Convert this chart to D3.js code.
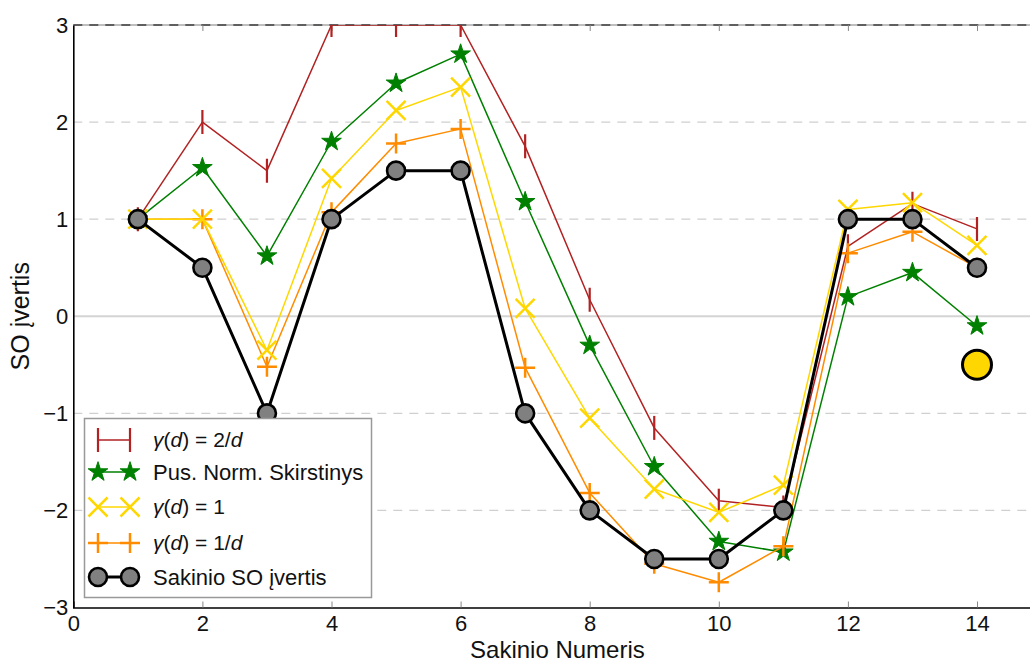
<!DOCTYPE html>
<html>
<head>
<meta charset="utf-8">
<script src="https://cdn.jsdelivr.net/npm/d3@7"></script>
<style>
  html, body { margin: 0; padding: 0; background: #fff; }
  svg { display: block; }
  text { font-family: "Liberation Sans", Arial, sans-serif; fill: #111; }
</style>
</head>
<body>
<svg id="chart" width="1030" height="662"></svg>
<script>
// Sentence numbers
const sentences = [1, 2, 3, 4, 5, 6, 7, 8, 9, 10, 11, 12, 13, 14];

// Estimated SO scores for each weighting scheme
const gammaTwoOverD = [1, 2.0, 1.5, 3.0, 3.0, 3.0, 1.75, 0.17, -1.15, -1.9, -1.97, 0.72, 1.16, 0.9];
const halfNormal    = [1, 1.53, 0.62, 1.8, 2.4, 2.7, 1.18, -0.3, -1.55, -2.32, -2.43, 0.2, 0.45, -0.1];
const gammaOne      = [1, 1.0, -0.35, 1.42, 2.12, 2.36, 0.08, -1.05, -1.78, -2.02, -1.74, 1.1, 1.17, 0.73];
const gammaOneOverD = [1, 1.0, -0.52, 1.07, 1.78, 1.93, -0.53, -1.82, -2.55, -2.74, -2.37, 0.65, 0.87, 0.5];
const sentenceScore = [1, 0.5, -1, 1, 1.5, 1.5, -1, -2, -2.5, -2.5, -2, 1, 1, 0.5];

// Highlighted single point
const highlightX = [14];
const highlightY = [-0.5];

// Axis ticks
const xTicks = [0, 2, 4, 6, 8, 10, 12, 14];
const yTicks = [-3, -2, -1, 0, 1, 2, 3];

const svg = d3.select("#chart");
const plotLeft = 73.3, plotTop = 25, plotBottom = 607.5;

const x = d3.scaleLinear().domain([0, 15]).range([plotLeft, plotLeft + 15 * 64.55]);
const y = d3.scaleLinear().domain([-3, 3]).range([plotBottom, plotTop]);

// clip path for plot area
svg.append("defs").append("clipPath").attr("id", "plotClip")
  .append("rect")
  .attr("x", x(0)).attr("y", y(3))
  .attr("width", x(15) - x(0)).attr("height", y(-3) - y(3));

// horizontal grid
const grid = svg.append("g");
yTicks.filter(v => v !== 0 && v !== 3 && v !== -3).forEach(v => {
  grid.append("line")
    .attr("x1", x(0)).attr("x2", x(15))
    .attr("y1", y(v)).attr("y2", y(v))
    .attr("stroke", "#d0d0d0").attr("stroke-width", 1.2)
    .attr("stroke-dasharray", "9,7");
});
grid.append("line")
  .attr("x1", x(0)).attr("x2", x(15))
  .attr("y1", y(0)).attr("y2", y(0))
  .attr("stroke", "#d4d4d4").attr("stroke-width", 2.2);

// top spine (gray) with dashed black reference line at y = 3
svg.append("line")
  .attr("x1", x(0)).attr("x2", x(15)).attr("y1", y(3)).attr("y2", y(3))
  .attr("stroke", "#aaaaaa").attr("stroke-width", 1.5);
svg.append("line")
  .attr("x1", x(0)).attr("x2", x(15)).attr("y1", y(3)).attr("y2", y(3))
  .attr("stroke", "#000").attr("stroke-width", 1.2)
  .attr("stroke-dasharray", "9,7");

// x axis: bottom, ticks pointing inward
const xAxis = d3.axisBottom(x).tickValues(xTicks).tickSize(-6).tickPadding(8)
  .tickFormat(d3.format("d"));
const gx = svg.append("g").attr("transform", `translate(0,${plotBottom})`).call(xAxis);
gx.select(".domain").attr("stroke", "#000").attr("stroke-width", 1.6);
gx.selectAll(".tick line").attr("stroke", "#888").attr("stroke-width", 1);
gx.selectAll(".tick text").attr("font-size", 22)
  .attr("font-family", "Liberation Sans, Arial, sans-serif").attr("fill", "#111");

// top ticks
const xTop = d3.axisTop(x).tickValues(xTicks.filter(v => v > 0)).tickSize(-6).tickFormat("");
const gxt = svg.append("g").attr("transform", `translate(0,${plotTop})`).call(xTop);
gxt.select(".domain").remove();
gxt.selectAll(".tick line").attr("stroke", "#888").attr("stroke-width", 1);

// y axis: left, labels only
const yAxis = d3.axisLeft(y).tickValues(yTicks).tickSize(0).tickPadding(5)
  .tickFormat(d => d < 0 ? "\u2212" + Math.abs(d) : String(d));
const gy = svg.append("g").attr("transform", `translate(${plotLeft},0)`).call(yAxis);
gy.select(".domain").attr("stroke", "#000").attr("stroke-width", 1.6);
gy.selectAll(".tick text").attr("font-size", 22)
  .attr("font-family", "Liberation Sans, Arial, sans-serif").attr("fill", "#111");

// axis titles
svg.append("text")
  .attr("x", (x(0) + x(15)) / 2).attr("y", 658)
  .attr("text-anchor", "middle").attr("font-size", 24)
  .text("Sakinio Numeris");
svg.append("text")
  .attr("transform", `translate(29,${(plotTop + plotBottom) / 2}) rotate(-90)`)
  .attr("text-anchor", "middle").attr("font-size", 25)
  .text("SO įvertis");

// marker shape generators
const markers = {
  vline: (g, c) => g.append("path").attr("d", "M0,-12V12").attr("stroke", c).attr("stroke-width", 2.2).attr("fill", "none"),
  star: (g, c) => g.append("path").attr("d", d3.symbol(d3.symbolStar, 120)()).attr("fill", c).attr("stroke", c).attr("stroke-width", 1),
  cross: (g, c) => g.append("path").attr("d", "M-9.5,-9.5L9.5,9.5M-9.5,9.5L9.5,-9.5").attr("stroke", c).attr("stroke-width", 2.5).attr("fill", "none"),
  plus: (g, c) => g.append("path").attr("d", "M-10,0H10M0,-10V10").attr("stroke", c).attr("stroke-width", 2.5).attr("fill", "none"),
  circle: (g, c) => g.append("circle").attr("r", 9).attr("fill", "#808080").attr("stroke", c).attr("stroke-width", 2.6)
};

const series = [
  { values: gammaTwoOverD, color: "#b22222", width: 1.5, marker: "vline" },
  { values: halfNormal,    color: "#008000", width: 1.5, marker: "star" },
  { values: gammaOneOverD, color: "#ff8c00", width: 1.5, marker: "plus" },
  { values: gammaOne,      color: "#ffd700", width: 1.5, marker: "cross" },
  { values: sentenceScore, color: "#000000", width: 3,   marker: "circle" }
];

const plot = svg.append("g").attr("clip-path", "url(#plotClip)");
const line = d3.line().x(d => x(d[0])).y(d => y(d[1]));

series.forEach(s => {
  const pts = sentences.map((n, i) => [n, s.values[i]]);
  const g = plot.append("g");
  g.append("path").datum(pts).attr("d", line)
    .attr("fill", "none").attr("stroke", s.color).attr("stroke-width", s.width)
    .attr("stroke-linejoin", "round");
  pts.forEach(p => {
    const mg = g.append("g").attr("transform", `translate(${x(p[0])},${y(p[1])})`);
    markers[s.marker](mg, s.color);
  });
});

// highlighted point
highlightX.forEach((hx, i) => {
  plot.append("circle")
    .attr("cx", x(hx)).attr("cy", y(highlightY[i])).attr("r", 14.5)
    .attr("fill", "#ffd700").attr("stroke", "#000").attr("stroke-width", 3);
});

// legend
const legend = svg.append("g");
legend.append("rect")
  .attr("x", 84.5).attr("y", 418.5).attr("width", 287).attr("height", 179)
  .attr("fill", "#fff").attr("stroke", "#999").attr("stroke-width", 1.5);

const legendItems = [
  { s: series[0], yPos: 440, label: [["γ", "i"], ["(", ""], ["d", "i"], [")", ""], [" = ", ""], ["2/", ""], ["d", "i"]], math: true },
  { s: series[1], yPos: 472, label: "Pus. Norm. Skirstinys" },
  { s: series[3], yPos: 507, label: [["γ", "i"], ["(", ""], ["d", "i"], [")", ""], [" = ", ""], ["1", ""]], math: true },
  { s: series[2], yPos: 543, label: [["γ", "i"], ["(", ""], ["d", "i"], [")", ""], [" = ", ""], ["1/", ""], ["d", "i"]], math: true },
  { s: series[4], yPos: 577, label: "Sakinio SO įvertis" }
];

legendItems.forEach(item => {
  const s = item.s;
  legend.append("line")
    .attr("x1", 98).attr("x2", 130).attr("y1", item.yPos).attr("y2", item.yPos)
    .attr("stroke", s.color).attr("stroke-width", s.width);
  [98, 130].forEach(mx => {
    const mg = legend.append("g").attr("transform", `translate(${mx},${item.yPos})`);
    markers[s.marker](mg, s.color);
  });
  const t = legend.append("text").attr("x", 153).attr("y", item.yPos).attr("dy", "0.35em");
  if (item.math) {
    t.attr("font-family", "Liberation Serif, 'DejaVu Serif', serif").attr("font-size", 21);
    item.label.forEach(([txt, style]) => {
      t.append("tspan").text(txt)
        .attr("font-style", style === "i" ? "italic" : "normal");
    });
    t.style("white-space", "pre");
  } else {
    t.attr("font-size", 22).text(item.label);
  }
});
</script>
</body>
</html>
